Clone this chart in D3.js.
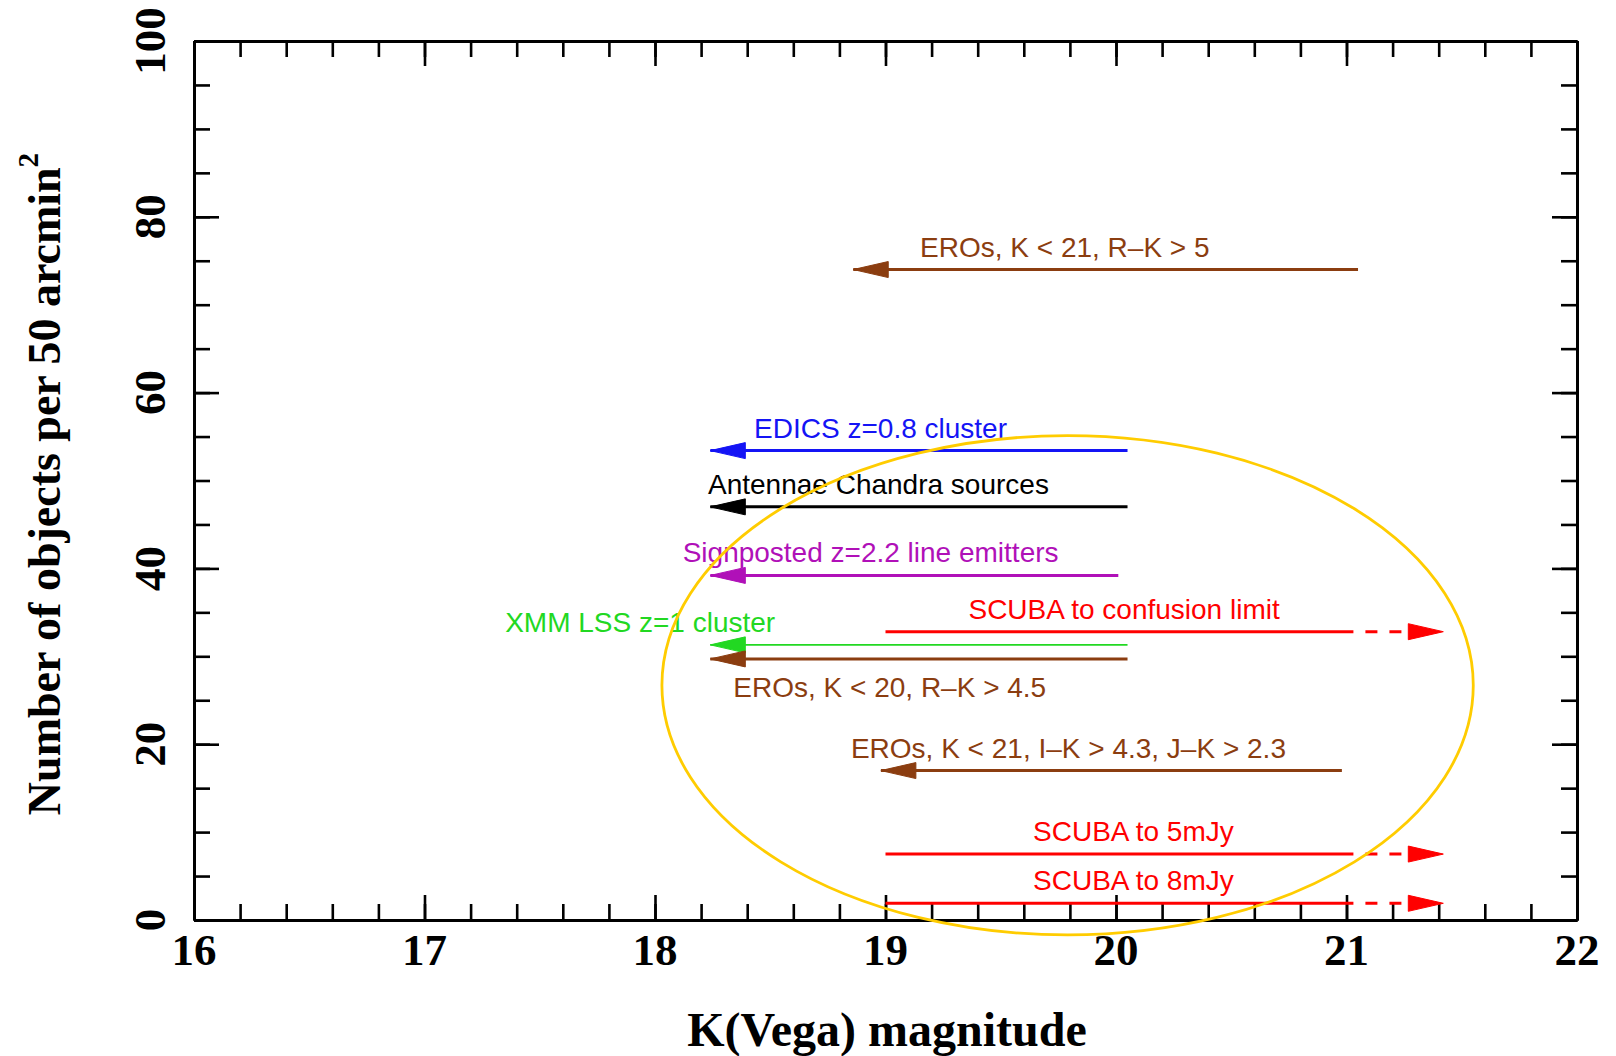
<!DOCTYPE html>
<html>
<head>
<meta charset="utf-8">
<script src="https://cdn.jsdelivr.net/npm/d3@7"></script>
<style>
  html, body { margin: 0; padding: 0; background: #ffffff; }
  svg { display: block; }
</style>
</head>
<body>
<svg id="chart" width="1616" height="1056"></svg>
<script>
// Source samples: surface density reached down to a K-band limit
const sampleNames = [
  "EROs, K < 21, R\u2013K > 5",
  "EDICS z=0.8 cluster",
  "Antennae Chandra sources",
  "Signposted z=2.2 line emitters",
  "SCUBA to confusion limit",
  "XMM LSS z=1 cluster",
  "EROs, K < 20, R\u2013K > 4.5",
  "EROs, K < 21, I\u2013K > 4.3, J\u2013K > 2.3",
  "SCUBA to 5mJy",
  "SCUBA to 8mJy"
];
// objects per 50 arcmin^2
const sampleCounts = [74.0, 53.4, 47.0, 39.2, 32.8, 31.3, 29.7, 17.0, 7.5, 1.9];
// bright end and faint end of the solid segment (K Vega mag)
const kBright = [18.86, 18.24, 18.24, 18.24, 19.00, 18.24, 18.24, 18.98, 19.00, 19.00];
const kFaint  = [21.05, 20.05, 20.05, 20.01, 21.03, 20.05, 20.05, 20.98, 21.03, 21.03];
// dashed extension towards fainter magnitudes (null = none)
const kExtension = [null, null, null, null, 21.42, null, null, null, 21.42, 21.42];
// arrow direction: "left" points to brighter K, "right" to fainter K
const arrowDirection = ["left", "left", "left", "left", "right", "left", "left", "left", "right", "right"];
const sampleColors = ["#8b3d10", "#1414f5", "#000000", "#b010b8", "#ff0000",
                      "#22d822", "#8b3d10", "#8b3d10", "#ff0000", "#ff0000"];
// label start (K mag) and whether it sits above or below its line
const labelK = [19.15, 18.43, 18.23, 18.12, 19.36, 17.35, 18.34, 18.85, 19.64, 19.64];
const labelSide = ["above", "above", "above", "above", "above", "above", "below", "above", "above", "above"];

// highlighted region (ellipse) in data units
const regionCentre = [19.79, 26.7];
const regionRadii = [1.76, 28.4];

const xTickLabels = [16, 17, 18, 19, 20, 21, 22];
const yTickLabels = [0, 20, 40, 60, 80, 100];

const svg = d3.select("#chart");
const plotLeft = 194, plotRight = 1577, plotTop = 41, plotBottom = 920;

const x = d3.scaleLinear().domain([16, 22]).range([plotLeft, plotRight]);
const y = d3.scaleLinear().domain([0, 100]).range([plotBottom, plotTop]);

const serif = "'Liberation Serif', 'Times New Roman', Times, serif";
const sans = "'Liberation Sans', Arial, Helvetica, sans-serif";

// ---- axes with inward ticks on all four sides ----
const xMinor = d3.range(16, 22.0001, 0.2);
const yMinor = d3.range(0, 100.0001, 5);

function styleAxis(g) {
  g.selectAll("text").remove();
  g.select(".domain").attr("stroke", "#000").attr("stroke-width", 3);
  g.selectAll(".tick line").attr("stroke", "#000").attr("stroke-width", 2.6);
}

const axes = [
  [d3.axisBottom, x, xMinor, xTickLabels, `translate(0,${plotBottom})`],
  [d3.axisTop, x, xMinor, xTickLabels, `translate(0,${plotTop})`],
  [d3.axisLeft, y, yMinor, yTickLabels, `translate(${plotLeft},0)`],
  [d3.axisRight, y, yMinor, yTickLabels, `translate(${plotRight},0)`]
];
axes.forEach(([axisFn, scale, minor, major, tr]) => {
  svg.append("g").attr("transform", tr)
    .call(axisFn(scale).tickValues(minor).tickSize(-16).tickSizeOuter(0))
    .call(styleAxis);
  svg.append("g").attr("transform", tr)
    .call(axisFn(scale).tickValues(major).tickSize(-25).tickSizeOuter(0))
    .call(styleAxis);
});

// tick labels
svg.append("g").selectAll("text").data(xTickLabels).join("text")
  .attr("x", d => x(d)).attr("y", 965)
  .attr("text-anchor", "middle")
  .attr("font-family", serif).attr("font-weight", "bold").attr("font-size", 45)
  .text(d => d);

svg.append("g").selectAll("text").data(yTickLabels).join("text")
  .attr("transform", d => `translate(165,${y(d)}) rotate(-90)`)
  .attr("text-anchor", "middle")
  .attr("font-family", serif).attr("font-weight", "bold").attr("font-size", 45)
  .text(d => d);

// axis titles
svg.append("text")
  .attr("x", 887).attr("y", 1046)
  .attr("text-anchor", "middle")
  .attr("font-family", serif).attr("font-weight", "bold").attr("font-size", 48)
  .text("K(Vega) magnitude");

const yTitle = svg.append("text")
  .attr("transform", "translate(60,484) rotate(-90)")
  .attr("text-anchor", "middle")
  .attr("font-family", serif).attr("font-weight", "bold").attr("font-size", 46);
yTitle.append("tspan").text("Number of objects per 50 arcmin");
yTitle.append("tspan").attr("dy", -22).attr("font-size", 29).text("2");

// ---- sample lines ----
const headLength = 35, headHalf = 8;
const samples = sampleNames.map((name, i) => ({
  name, count: sampleCounts[i], kb: kBright[i], kf: kFaint[i],
  ext: kExtension[i], dir: arrowDirection[i], color: sampleColors[i],
  lk: labelK[i], side: labelSide[i]
}));

const g = svg.append("g");
samples.forEach(s => {
  const yy = y(s.count);
  const lw = s.name.startsWith("XMM") ? 1.6 : 3;
  g.append("line")
    .attr("x1", x(s.kb)).attr("x2", x(s.kf))
    .attr("y1", yy).attr("y2", yy)
    .attr("stroke", s.color).attr("stroke-width", lw);

  let tipX, baseX;
  if (s.dir === "left") {
    tipX = x(s.kb);
    baseX = tipX + headLength;
  } else {
    tipX = x(s.ext);
    baseX = tipX - headLength;
    g.append("line")
      .attr("x1", x(s.kf)).attr("x2", baseX)
      .attr("y1", yy).attr("y2", yy)
      .attr("stroke", s.color).attr("stroke-width", 3)
      .attr("stroke-dasharray", "12 12").attr("stroke-dashoffset", 12);
  }
  g.append("path")
    .attr("d", `M${tipX},${yy} L${baseX},${yy - headHalf} L${baseX},${yy + headHalf} Z`)
    .attr("fill", s.color).attr("stroke", s.color).attr("stroke-width", 1);

  g.append("text")
    .attr("x", x(s.lk))
    .attr("y", s.side === "above" ? yy - 13 : yy + 38)
    .attr("font-family", sans).attr("font-size", 28)
    .attr("fill", s.color)
    .text(s.name);
});

// ---- highlighted region ----
svg.append("ellipse")
  .attr("cx", x(regionCentre[0])).attr("cy", y(regionCentre[1]))
  .attr("rx", x(regionCentre[0] + regionRadii[0]) - x(regionCentre[0]))
  .attr("ry", y(regionCentre[1] - regionRadii[1]) - y(regionCentre[1]))
  .attr("fill", "none").attr("stroke", "#ffcc00").attr("stroke-width", 2.8);
</script>
</body>
</html>
